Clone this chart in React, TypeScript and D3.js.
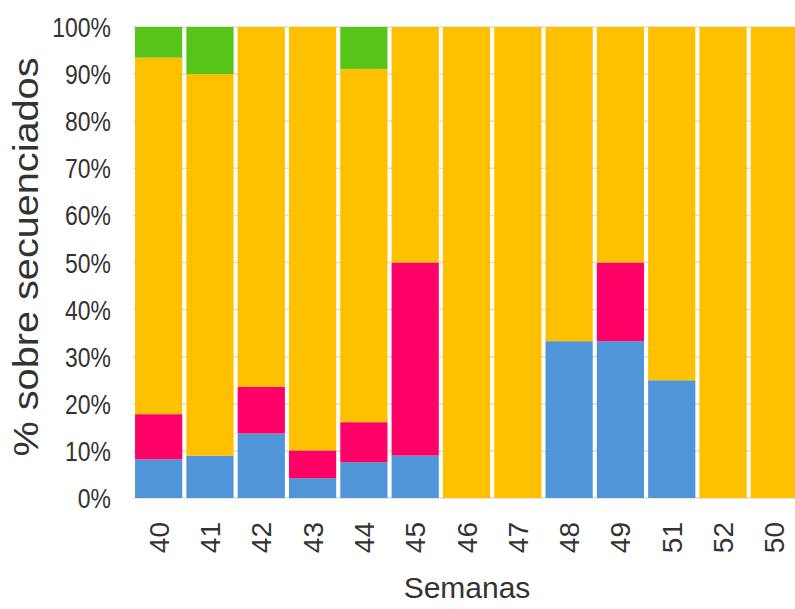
import React from "react";
import * as d3 from "d3";

const weeks = ["40", "41", "42", "43", "44", "45", "46", "47", "48", "49", "51", "52", "50"];
const blue = [8.2, 9, 13.7, 4.2, 7.6, 9, 0, 0, 33.3, 33.3, 25, 0, 0];
const pink = [9.6, 0, 9.9, 5.9, 8.5, 41, 0, 0, 0, 16.7, 0, 0, 0];
const orange = [75.7, 81, 76.4, 89.9, 75, 50, 100, 100, 66.7, 50, 75, 100, 100];
const green = [6.5, 10, 0, 0, 8.9, 0, 0, 0, 0, 0, 0, 0, 0];
const yTicks = [0, 10, 20, 30, 40, 50, 60, 70, 80, 90, 100];

const seriesKeys = ["blue", "pink", "orange", "green"];
const colors: Record<string, string> = {
  blue: "#4f95d8",
  pink: "#ff0066",
  orange: "#ffc000",
  green: "#57c41a",
};

export default function App() {
  const W = 795, H = 609;
  const x = d3.scaleBand<string>().domain(weeks).range([133, 800]).paddingInner(0.08).paddingOuter(0.04);
  const y = d3.scaleLinear().domain([0, 100]).range([498, 27]);
  const rows = weeks.map((w, i) => ({ week: w, blue: blue[i], pink: pink[i], orange: orange[i], green: green[i] }));
  const stacked = d3.stack<any>().keys(seriesKeys)(rows);
  const font = "'Liberation Sans', Arial, Helvetica, sans-serif";

  return (
    <svg width={W} height={H} style={{ position: "absolute", left: 0, top: 0, background: "#fff" }}>
      {yTicks.map((t) => (
        <line key={"g" + t} x1={133} x2={W} y1={y(t)} y2={y(t)} stroke="#dcdcdc" strokeWidth={1.5} />
      ))}
      {stacked.map((s) => (
        <g key={s.key} fill={colors[s.key]}>
          {s.map((d, i) =>
            d[1] - d[0] > 0 ? (
              <rect key={i} x={x(weeks[i])} width={x.bandwidth()} y={y(d[1])} height={y(d[0]) - y(d[1])} />
            ) : null
          )}
        </g>
      ))}
      {yTicks.map((t) => (
        <g key={"t" + t} transform={`translate(111,${y(t) + 10}) scale(0.82,1)`}>
          <text textAnchor="end" fontFamily={font} fontSize={28} fill="#333">
            {t}%
          </text>
        </g>
      ))}
      {weeks.map((w) => (
        <text
          key={"x" + w}
          transform={`translate(${(x(w) as number) + x.bandwidth() / 2 + 10},522) rotate(-90)`}
          textAnchor="end"
          fontFamily={font}
          fontSize={28}
          fill="#333"
        >
          {w}
        </text>
      ))}
      <text x={467} y={598} textAnchor="middle" fontFamily={font} fontSize={30} fill="#333">
        Semanas
      </text>
      <text
        transform="translate(38,257) rotate(-90)"
        textAnchor="middle"
        fontFamily={font}
        fontSize={35}
        fill="#333"
        textLength={399}
        lengthAdjust="spacingAndGlyphs"
      >
        % sobre secuenciados
      </text>
    </svg>
  );
}
